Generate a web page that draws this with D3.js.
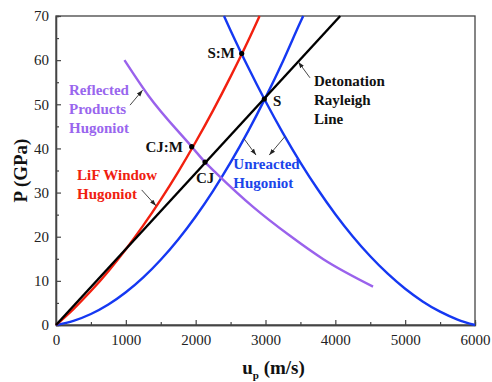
<!DOCTYPE html>
<html><head><meta charset="utf-8">
<script src="https://cdn.jsdelivr.net/npm/d3@7"></script>
<style>body{margin:0;background:#fff;}svg{display:block;}</style>
</head><body>
<script>
// ---- data (u_p in m/s, P in GPa) ----
const xTicks = [0,1000,2000,3000,4000,5000,6000];
const yTicks = [0,10,20,30,40,50,60,70];
const rayleighU = [0, 4070];
const rayleighP = [0, 70];
const lifU = [0,250,500,750,1000,1250,1500,1750,2000,2250,2500,2750,2915];
const lifP = [0,3.62,7.69,12.2,17.16,22.56,28.41,34.71,41.45,48.63,56.27,64.34,70];
const unreactedU = [0,250,500,750,1000,1250,1500,1750,2000,2250,2500,2750,3000,3250,3500,3540];
const unreactedP = [0,0.94,2.49,4.64,7.41,10.79,14.78,19.37,24.58,30.4,36.83,43.86,51.51,59.77,68.64,70];
const mirrorU = [2405,2500,2750,3000,3250,3500,3750,4000,4250,4500,4750,5000,5250,5500,5750,6000];
const mirrorP = [70,66.74,58.44,50.69,43.48,36.81,30.69,25.1,20.06,15.57,11.62,8.21,5.34,3.02,1.24,0];
const reflectedU = [980,1322,1943,2134,2301,2826,3351,3828,4540];
const reflectedP = [60,52.0,40.4,36.9,34.3,26.7,20.2,14.9,8.7];
const pointNames = ["S:M","CJ:M","CJ","S"];
const pointU = [2659,1943,2134,2983];
const pointP = [61.5,40.4,36.9,51.2];

const W=492,H=382, m={l:56,t:16,r:17,b:57};
const svg=d3.select("body").append("svg").attr("width",W).attr("height",H);
const x=d3.scaleLinear().domain([0,6000]).range([m.l,W-m.r]);
const y=d3.scaleLinear().domain([0,70]).range([H-m.b,m.t]);
const FONT='"Liberation Serif"';
const axisCol="#444";

// frame
svg.append("rect").attr("x",x(0)).attr("y",y(70)).attr("width",x(6000)-x(0)).attr("height",y(0)-y(70))
  .attr("fill","none").attr("stroke",axisCol).attr("stroke-width",1.3);

// axes
const gx=svg.append("g").attr("transform",`translate(0,${y(0)})`)
  .call(d3.axisBottom(x).tickValues(xTicks).tickSizeInner(-5).tickSizeOuter(0).tickPadding(9).tickFormat(d3.format("d")));
const gxm=svg.append("g").attr("transform",`translate(0,${y(0)})`)
  .call(d3.axisBottom(x).tickValues(d3.range(500,6000,1000)).tickSize(-3).tickFormat(""));
const gy=svg.append("g").attr("transform",`translate(${x(0)},0)`)
  .call(d3.axisLeft(y).tickValues(yTicks).tickSizeInner(-5).tickSizeOuter(0).tickPadding(7));
const gym=svg.append("g").attr("transform",`translate(${x(0)},0)`)
  .call(d3.axisLeft(y).tickValues(d3.range(5,70,10)).tickSize(-3).tickFormat(""));
[gx,gxm,gy,gym].forEach(g=>{
  g.attr("font-family",null).attr("font-size",null);
  g.selectAll("path").attr("stroke",axisCol).attr("stroke-width",1.3);
  g.selectAll("line").attr("stroke",axisCol).attr("stroke-width",1.2);
  g.selectAll("text").style("font-family",FONT).style("font-size","15px").attr("fill","#222");
});

// curves
const line=d3.line().x(d=>x(d[0])).y(d=>y(d[1])).curve(d3.curveMonotoneX);
const zip=(a,b)=>a.map((v,i)=>[v,b[i]]);
const curves=[
  {u:unreactedU,p:unreactedP,c:"#1538f2"},
  {u:mirrorU,p:mirrorP,c:"#1538f2"},
  {u:reflectedU,p:reflectedP,c:"#9a62ec"},
  {u:lifU,p:lifP,c:"#f2200f"},
  {u:rayleighU,p:rayleighP,c:"#000"},
];
curves.forEach(cv=>{
  svg.append("path").attr("d",line(zip(cv.u,cv.p))).attr("fill","none")
    .attr("stroke",cv.c).attr("stroke-width",2.4);
});

// points
pointNames.forEach((n,i)=>{
  svg.append("circle").attr("cx",x(pointU[i])).attr("cy",y(pointP[i])).attr("r",2.6).attr("fill","#000");
});

// labels
const labels=[
  {t:["S:M"],u:2563,p:60.5,c:"#111",a:"end"},
  {t:["CJ:M"],u:1818,p:39.2,c:"#111",a:"end"},
  {t:["CJ"],u:2005,p:32.1,c:"#111",a:"start"},
  {t:["S"],u:3107,p:49.6,c:"#111",a:"start"},
  {t:["Reflected","Products","Hugoniot"],u:186,p:52.1,c:"#9966ee",a:"start"},
  {t:["LiF Window","Hugoniot"],u:301,p:32.8,c:"#f0200f",a:"start"},
  {t:["Unreacted","Hugoniot"],u:2539,p:35.4,c:"#1a45ea",a:"start"},
  {t:["Detonation","Rayleigh","Line"],u:3695,p:54.1,c:"#111",a:"start"},
];
labels.forEach(L=>{
  const te=svg.append("text").attr("x",x(L.u)).attr("y",y(L.p)).style("font-family",FONT)
    .style("font-size","15px").style("font-weight","bold").attr("fill",L.c).attr("text-anchor",L.a);
  L.t.forEach((s,i)=>te.append("tspan").attr("x",x(L.u)).attr("dy",i?18.8:0).text(s));
});

// arrows
svg.append("defs").append("marker").attr("id","ah").attr("viewBox","0 0 10 10").attr("refX",10).attr("refY",5)
  .attr("markerWidth",7).attr("markerHeight",7).attr("orient","auto-start-reverse")
  .append("path").attr("d","M0,1.5L10,5L0,8.5z").attr("fill","#222");
const arrows=[
  {u0:1060,p0:49.8,u1:1240,p1:53.2},
  {u0:1227,p0:30.6,u1:1432,p1:27.0},
  {u0:2692,p0:42.2,u1:2864,p1:38.5},
  {u0:3279,p0:42.7,u1:3054,p1:38.5},
  {u0:3637,p0:56.0,u1:3470,p1:59.6},
];
arrows.forEach(A=>{
  svg.append("line").attr("x1",x(A.u0)).attr("y1",y(A.p0)).attr("x2",x(A.u1)).attr("y2",y(A.p1))
    .attr("stroke","#333").attr("stroke-width",0.9).attr("marker-end","url(#ah)");
});

// axis titles
svg.append("text").attr("transform",`translate(27,${(y(0)+y(70))/2}) rotate(-90)`).attr("text-anchor","middle")
  .style("font-family",FONT).style("font-size","19px").style("font-weight","bold").attr("fill","#111").text("P (GPa)");
const xt=svg.append("text").attr("x",(x(0)+x(6000))/2+8).attr("y",374).attr("text-anchor","middle")
  .style("font-family",FONT).style("font-size","19px").style("font-weight","bold").attr("fill","#111");
xt.append("tspan").text("u");
xt.append("tspan").style("font-size","11px").attr("dy",5).text("p");
xt.append("tspan").attr("dy",-5).text(" (m/s)");
</script>
</body></html>
